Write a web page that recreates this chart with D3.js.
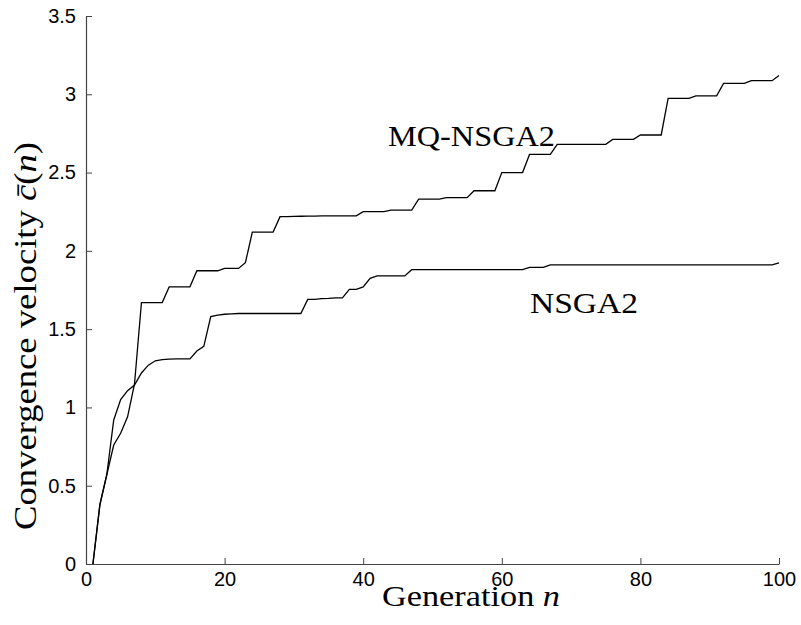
<!DOCTYPE html>
<html>
<head>
<meta charset="utf-8">
<script src="https://cdn.jsdelivr.net/npm/d3@7"></script>
<style>
  html, body { margin: 0; padding: 0; background: #fff; }
  svg { display: block; }
</style>
</head>
<body>
<svg id="chart" width="801" height="625"></svg>
<script>
// Generations 1..100
const generations = d3.range(1, 101);

// Mean convergence velocity per generation, MQ-NSGA2
const mqNsga2 = [
  0, 0.377, 0.57, 0.76, 0.835, 0.94, 1.15, 1.67, 1.67, 1.67,
  1.67, 1.77, 1.77, 1.77, 1.77, 1.873, 1.873, 1.873, 1.873, 1.888,
  1.888, 1.888, 1.924, 2.12, 2.12, 2.12, 2.12, 2.218, 2.219, 2.22,
  2.221, 2.222, 2.222, 2.223, 2.223, 2.223, 2.224, 2.224, 2.224, 2.25,
  2.25, 2.25, 2.25, 2.26, 2.26, 2.26, 2.26, 2.33, 2.33, 2.33,
  2.33, 2.34, 2.34, 2.34, 2.34, 2.384, 2.384, 2.384, 2.384, 2.5,
  2.5, 2.5, 2.5, 2.616, 2.616, 2.616, 2.616, 2.68, 2.68, 2.68,
  2.68, 2.68, 2.68, 2.68, 2.68, 2.712, 2.712, 2.712, 2.712, 2.74,
  2.74, 2.74, 2.74, 2.974, 2.974, 2.974, 2.974, 2.99, 2.99, 2.99,
  2.99, 3.07, 3.07, 3.07, 3.07, 3.087, 3.087, 3.087, 3.087, 3.12
];

// Mean convergence velocity per generation, NSGA2
const nsga2 = [
  0, 0.377, 0.57, 0.92, 1.05, 1.107, 1.143, 1.22, 1.27, 1.298,
  1.305, 1.309, 1.31, 1.31, 1.31, 1.36, 1.39, 1.58, 1.59, 1.595,
  1.598, 1.6, 1.6, 1.6, 1.6, 1.6, 1.6, 1.6, 1.6, 1.6,
  1.6, 1.69, 1.69, 1.695, 1.697, 1.7, 1.7, 1.754, 1.754, 1.77,
  1.824, 1.84, 1.84, 1.84, 1.84, 1.84, 1.88, 1.88, 1.88, 1.88,
  1.88, 1.88, 1.88, 1.88, 1.88, 1.88, 1.88, 1.88, 1.88, 1.88,
  1.88, 1.88, 1.88, 1.895, 1.895, 1.895, 1.91, 1.91, 1.91, 1.91,
  1.91, 1.91, 1.91, 1.91, 1.91, 1.91, 1.91, 1.91, 1.91, 1.91,
  1.91, 1.91, 1.91, 1.91, 1.91, 1.91, 1.91, 1.91, 1.91, 1.91,
  1.91, 1.91, 1.91, 1.91, 1.91, 1.91, 1.91, 1.91, 1.91, 1.924
];

const xTicks = [0, 20, 40, 60, 80, 100];
const yTicks = [0, 0.5, 1, 1.5, 2, 2.5, 3, 3.5];

const svg = d3.select("#chart");
const plotLeft = 86, plotRight = 779, plotTop = 16, plotBottom = 564;

const x = d3.scaleLinear().domain([0, 100]).range([plotLeft, plotRight]);
const y = d3.scaleLinear().domain([0, 3.5]).range([plotBottom, plotTop]);

const tickFont = "'Liberation Sans', Arial, sans-serif";
const serif = "'Liberation Serif', 'Times New Roman', serif";

// Bottom axis, ticks pointing into the plot
const xAxis = d3.axisBottom(x).tickValues(xTicks).tickSizeInner(-6).tickSizeOuter(0)
  .tickFormat(d3.format("d")).tickPadding(12);
const gx = svg.append("g").attr("transform", `translate(0,${plotBottom})`).call(xAxis);

// Left axis, ticks pointing into the plot
const yAxis = d3.axisLeft(y).tickValues(yTicks).tickSizeInner(-6).tickSizeOuter(0)
  .tickFormat(d => String(d)).tickPadding(12);
const gy = svg.append("g").attr("transform", `translate(${plotLeft},0)`).call(yAxis);

[gx, gy].forEach(g => {
  g.select(".domain").attr("stroke", "#444").attr("stroke-width", 1.2);
  g.selectAll(".tick line").attr("stroke", "#444").attr("stroke-width", 1);
  g.selectAll(".tick text").attr("font-family", tickFont).attr("font-size", 20)
    .attr("fill", "#000");
});
gx.selectAll(".tick text").attr("dy", "0.5em");
gy.selectAll(".tick text").attr("dx", "0.1em");

// Curves
const line = d3.line().x((d, i) => x(generations[i])).y(d => y(d));

svg.append("path").datum(mqNsga2).attr("d", line)
  .attr("fill", "none").attr("stroke", "#000").attr("stroke-width", 1.3);
svg.append("path").datum(nsga2).attr("d", line)
  .attr("fill", "none").attr("stroke", "#000").attr("stroke-width", 1.3);

// Curve labels
svg.append("text").attr("x", 388).attr("y", 146)
  .attr("font-family", serif).attr("font-size", 30)
  .attr("textLength", 167).attr("lengthAdjust", "spacingAndGlyphs")
  .text("MQ-NSGA2");
svg.append("text").attr("x", 530).attr("y", 313)
  .attr("font-family", serif).attr("font-size", 30)
  .attr("textLength", 108).attr("lengthAdjust", "spacingAndGlyphs")
  .text("NSGA2");

// Axis titles
const xt = svg.append("text").attr("x", 382).attr("y", 606)
  .attr("font-family", serif).attr("font-size", 30)
  .attr("textLength", 178).attr("lengthAdjust", "spacingAndGlyphs");
xt.append("tspan").text("Generation ");
xt.append("tspan").attr("font-style", "italic").text("n");

const yt = svg.append("text")
  .attr("transform", "translate(36,530) rotate(-90)")
  .attr("font-family", serif).attr("font-size", 31)
  .attr("textLength", 388).attr("lengthAdjust", "spacingAndGlyphs");
yt.append("tspan").text("Convergence velocity ");
yt.append("tspan").attr("font-style", "italic").text("c\u0304");
yt.append("tspan").text("(");
yt.append("tspan").attr("font-style", "italic").text("n");
yt.append("tspan").text(")");
</script>
</body>
</html>
